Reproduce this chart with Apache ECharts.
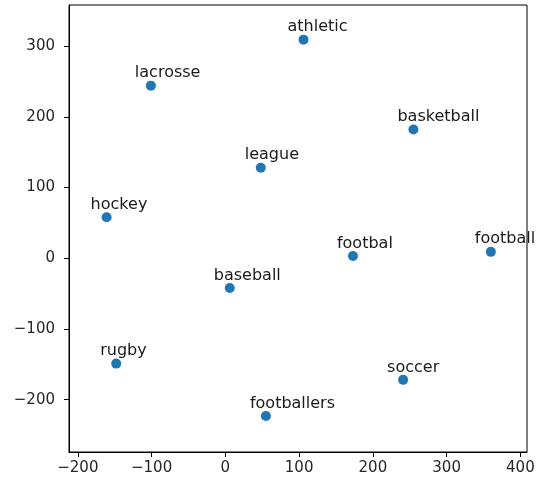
<!DOCTYPE html>
<html>
<head>
<meta charset="utf-8">
<script src="https://cdn.jsdelivr.net/npm/echarts@6/dist/echarts.min.js"></script>
<style>
  html, body { margin: 0; padding: 0; background: #fff; }
  #chart { width: 538px; height: 487px; }
</style>
</head>
<body>
<div id="chart"></div>
<script>
// Word embedding projection: sport-related terms in 2-D
const words = ['lacrosse', 'athletic', 'basketball', 'league', 'hockey', 'footbal',
               'football', 'baseball', 'rugby', 'soccer', 'footballers'];
const xValues = [-101, 106, 255, 48, -161, 173, 360, 6, -148, 241, 55];
const yValues = [244, 309, 182, 128, 58, 3, 9, -42, -149, -172, -223];
const xTicks = [-200, -100, 0, 100, 200, 300, 400];
const yTicks = [-200, -100, 0, 100, 200, 300];

const points = words.map((w, i) => ({ name: w, value: [xValues[i], yValues[i]] }));
const fmt = v => String(v).replace('-', '\u2212');
const FONT = 'DejaVu Sans';

const chart = echarts.init(document.getElementById('chart'), null, { renderer: 'canvas' });
chart.setOption({
  animation: false,
  grid: {
    left: 69, right: 11, top: 5, bottom: 35,
    show: true, borderColor: '#000', borderWidth: 1, backgroundColor: 'transparent'
  },
  xAxis: {
    type: 'value', min: -212, max: 409,
    axisLine: { show: true, onZero: false, lineStyle: { color: '#000', width: 1 } },
    splitLine: { show: false },
    axisTick: { show: true, length: 5, customValues: xTicks, lineStyle: { color: '#000' } },
    axisLabel: { customValues: xTicks, formatter: fmt, margin: 9,
                 color: '#262626', fontFamily: FONT, fontSize: 15 }
  },
  yAxis: {
    type: 'value', min: -274, max: 358,
    axisLine: { show: true, onZero: false, lineStyle: { color: '#000', width: 1 } },
    splitLine: { show: false },
    axisTick: { show: true, length: 5, customValues: yTicks, lineStyle: { color: '#000' } },
    axisLabel: { customValues: yTicks, formatter: fmt, margin: 14,
                 color: '#262626', fontFamily: FONT, fontSize: 15 }
  },
  series: [{
    type: 'scatter',
    data: points,
    symbolSize: 10,
    itemStyle: { color: '#1f77b4', opacity: 1 },
    clip: false,
    label: {
      show: true, position: [-11, -7.5], align: 'left', verticalAlign: 'middle',
      formatter: p => p.name,
      color: '#1a1a1a', fontFamily: FONT, fontSize: 16
    },
    labelLayout: { hideOverlap: false }
  }]
});
</script>
</body>
</html>
